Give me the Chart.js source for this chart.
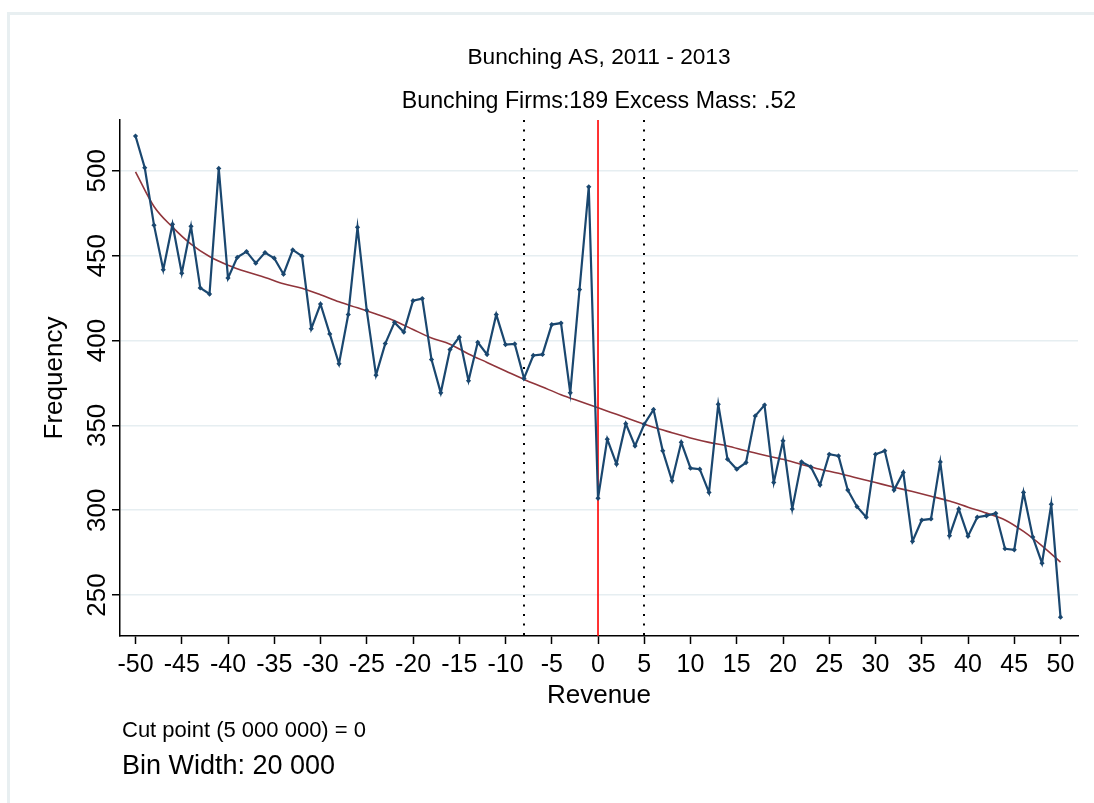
<!DOCTYPE html>
<html>
<head>
<meta charset="utf-8">
<script src="https://cdn.jsdelivr.net/npm/chart.js@4/dist/chart.umd.min.js"></script>
<style>
body{margin:0;background:#fff;font-family:"Liberation Sans",Arial,sans-serif}
#wrap{position:relative;width:1094px;height:803px}
#frame{position:absolute;left:7px;top:12px;right:0;bottom:0;border-top:3px solid #e8eff1;border-left:3px solid #e8eff1}
.note{position:absolute;left:122px;color:#000;white-space:nowrap;transform:translateY(-50%)}
</style>
</head>
<body>
<div id="wrap">
<div id="frame"></div>
<canvas id="chart"></canvas>
<div class="note" style="top:730px;font-size:22px">Cut point (5 000 000) = 0</div>
<div class="note" style="top:765px;font-size:27px">Bin Width: 20 000</div>
</div>
<script>
// bins in units of bin width, relative to the cut point
const revenueBins = []
for(let b=-50;b<=50;b++) revenueBins.push(b)

const frequency = [
520.5,501.8,468,441.7,468.5,439.7,467.3,431,427.4,501.4,
436.8,449,452.4,445.6,451.8,448.5,439.1,453.4,449.7,407,
421.5,403.9,386.3,415.3,466.7,417.8,379.6,398.2,410.7,405,
423.5,424.7,388.8,369.2,394.7,402,376.3,399,391.8,415.3,
397.6,398,377.7,391.2,391.8,409.4,410.3,369.2,430,490.6,
307,
341.9,327.2,351,337.9,350.7,359.3,335,317.4,340,324.8,
324.2,310.5,362.4,330.1,324.2,328.1,355.6,362,316.4,340.9,
300.8,328.5,325.6,314.9,333,332,311.9,302.1,295.9,333,
335,311.9,322.3,281.7,294.2,294.9,328.5,285,300.8,284.7,
295.9,296.8,298.2,277.3,276.7,310.5,284.2,268.8,303.5,237
]

// counterfactual polynomial fit, read every 2 bins
const fitBins = []
for(let b=-50;b<=50;b+=2) fitBins.push(b)
const fitValues = [
499.4,479,466.8,456.8,449.5,444.4,440.5,437.2,433.5,430.8,
427,422.8,419.3,415.6,411.7,406.5,401.5,397.8,392.1,387.1,
382.1,377.1,372.6,368.1,364.2,360.4,356.5,352.6,348.9,345.7,
342.6,340,337.9,335,332.4,330,327,324.2,321.8,319,
316.3,313.6,311,308.3,305.4,301.8,298.3,294.3,287.5,279,269.4
]

const xTicks = [-50,-45,-40,-35,-30,-25,-20,-15,-10,-5,0,5,10,15,20,25,30,35,40,45,50]
const yTicks = [250,300,350,400,450,500]
const cutPoint = 0
const windowLow = -8
const windowHigh = 5

Chart.defaults.font.family = "'Liberation Sans', Arial, sans-serif"
Chart.defaults.color = "#000"

const refLines = {
id:"refLines",
beforeDatasetsDraw(chart){
const ctx = chart.ctx
const area = chart.chartArea
const xs = chart.scales.x
ctx.save()
ctx.strokeStyle = "#000"
ctx.lineWidth = 2
ctx.setLineDash([2,7.5])
;[windowLow,windowHigh].forEach(v=>{
const px = Math.round(xs.getPixelForValue(v))
ctx.beginPath()
ctx.moveTo(px,area.top)
ctx.lineTo(px,area.bottom)
ctx.stroke()
})
ctx.setLineDash([])
ctx.strokeStyle = "#ff0000"
ctx.lineWidth = 1.6
const p0 = xs.getPixelForValue(cutPoint)
ctx.beginPath()
ctx.moveTo(p0,area.top)
ctx.lineTo(p0,area.bottom)
ctx.stroke()
ctx.restore()
}
}

// Stata style vertical y labels
const yLabels = {
id:"yLabels",
afterDraw(chart){
const ctx = chart.ctx
const ys = chart.scales.y
ctx.save()
ctx.font = "26px 'Liberation Sans', Arial, sans-serif"
ctx.fillStyle = "#000"
ctx.textAlign = "center"
ctx.textBaseline = "middle"
yTicks.forEach(v=>{
ctx.save()
ctx.translate(98,ys.getPixelForValue(v))
ctx.rotate(-Math.PI/2)
ctx.fillText(String(v),0,0)
ctx.restore()
})
ctx.restore()
}
}

const ctx = document.getElementById("chart").getContext("2d")

new Chart(ctx,{
type:"line",
data:{
datasets:[{
label:"Frequency",
data:revenueBins.map((b,i)=>({x:b,y:frequency[i]})),
borderColor:"#1a476f",
backgroundColor:"#1a476f",
borderWidth:2.2,
pointStyle:"rectRot",
pointRadius:2.6,
pointBorderWidth:0,
tension:0
},{
label:"Fit",
data:fitBins.map((b,i)=>({x:b,y:fitValues[i]})),
borderColor:"#90353b",
borderWidth:1.6,
pointRadius:0,
cubicInterpolationMode:"monotone"
}]
},
options:{
responsive:true,
maintainAspectRatio:false,
animation:false,
layout:{padding:{top:30,left:0,right:16,bottom:91}},
plugins:{
legend:{display:false},
tooltip:{enabled:false},
title:{display:true,fullSize:false,text:"Bunching AS, 2011 - 2013",font:{size:22.7,weight:"normal"},padding:{top:14,bottom:0}},
subtitle:{display:true,fullSize:false,text:"Bunching Firms:189 Excess Mass: .52",font:{size:23.2},color:"#000",padding:{top:16,bottom:5}}
},
scales:{
x:{
type:"linear",
min:-51.676,
max:51.89,
afterBuildTicks(scale){scale.ticks = xTicks.map(v=>({value:v}))},
afterFit(scale){scale.height = 76},
ticks:{font:{size:25},padding:6,maxRotation:0,autoSkip:false,callback:v=>String(v)},
grid:{drawOnChartArea:false,tickLength:8,tickColor:"#000",tickWidth:1.5},
border:{color:"#000",width:1.5},
title:{display:true,text:"Revenue",font:{size:26},padding:{top:0,bottom:1}}
},
y:{
min:225.9,
max:529.9,
afterBuildTicks(scale){scale.ticks = yTicks.map(v=>({value:v}))},
afterFit(scale){scale.width = 120},
ticks:{display:false},
grid:{color:"#e6eef1",lineWidth:1.5,tickLength:8,tickColor:"#000",tickWidth:1.5},
border:{color:"#000",width:1.5},
title:{display:true,text:"Frequency",font:{size:26},padding:{top:39,bottom:0}}
}
}
},
plugins:[refLines,yLabels]
})
</script>
</body>
</html>
